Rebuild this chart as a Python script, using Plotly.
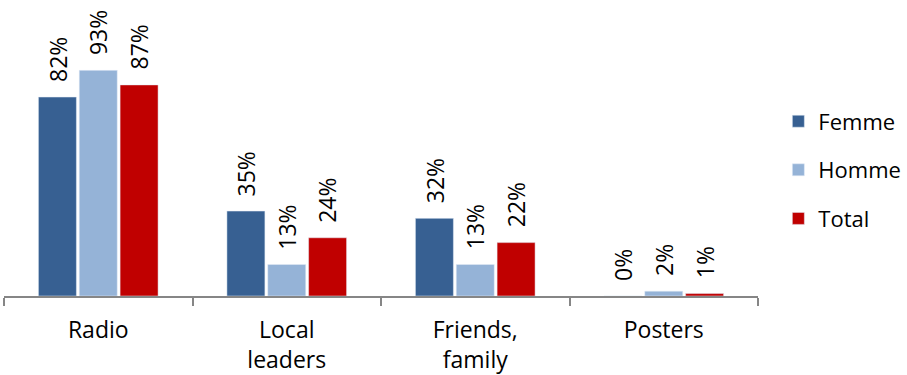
import plotly.graph_objects as go

categories = ["Radio", "Local<br>leaders", "Friends,<br>family", "Posters"]
femme = [82, 35, 32, 0]
homme = [93, 13, 13, 2]
total = [87, 24, 22, 1]

series = [("Femme", femme, "#376092"), ("Homme", homme, "#95B3D7"), ("Total", total, "#C00000")]

BARGAP = 0.35
FONT = "Open Sans, Liberation Sans, sans-serif"

fig = go.Figure()
for name, vals, col in series:
    fig.add_trace(go.Bar(
        x=categories, y=vals, name=name, marker_color=col,
        legendgroup=name, cliponaxis=False,
    ))

slot = (1 - BARGAP) / 3
for k, (name, vals, col) in enumerate(series):
    for i, v in enumerate(vals):
        fig.add_annotation(
            x=i + (k - 1) * slot, y=v, xref="x", yref="y",
            text=f"{v}%", showarrow=False, textangle=-90,
            yanchor="bottom", xanchor="center", yshift=13,
            font=dict(size=23, color="black", family=FONT),
        )

fig.update_layout(
    width=907, height=375,
    margin=dict(l=4, r=149, t=0, b=79, autoexpand=False),
    plot_bgcolor="white", paper_bgcolor="white",
    font=dict(family=FONT, size=23, color="black"),
    barmode="group", bargap=BARGAP, bargroupgap=0.07,
    showlegend=True,
    legend=dict(x=1.027, y=0.426, xanchor="left", yanchor="middle",
                font=dict(size=22), tracegroupgap=17, itemwidth=30),
)
fig.update_xaxes(showline=True, linecolor="#868686", linewidth=2,
                 ticks="outside", tickson="boundaries", ticklen=8, tickcolor="#868686",
                 tickwidth=2, tickfont=dict(size=23), ticklabelstandoff=12)
fig.update_yaxes(range=[0, 122], visible=False, showgrid=False)

fig.write_html("out.html")
